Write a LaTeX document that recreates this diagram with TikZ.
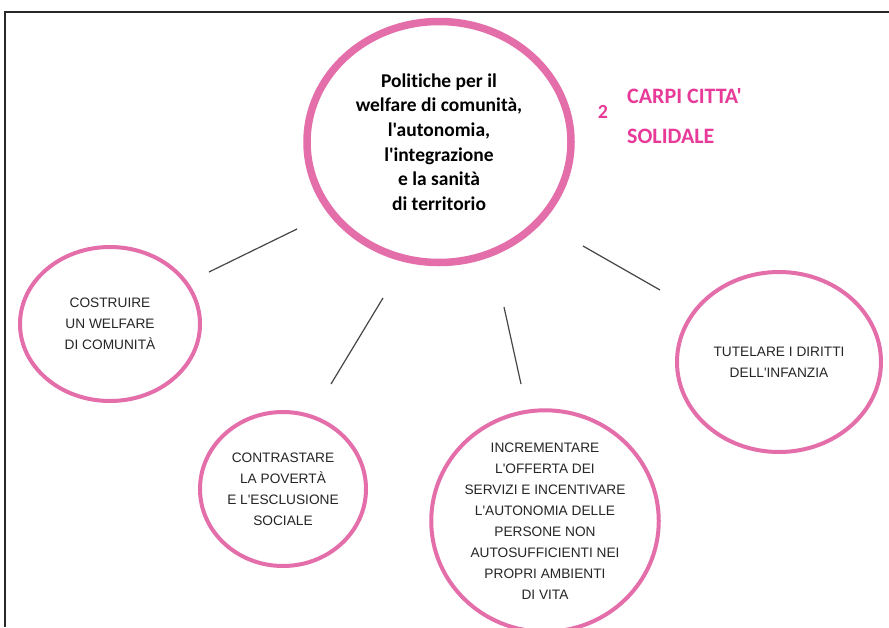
\documentclass[tikz,border=0pt]{standalone}
\usepackage{fontspec}
\setmainfont{Liberation Sans}[Ligatures=TeXOff]
\newfontfamily\calib{Carlito}[Ligatures={TeXOff,NoCommon}]
\usetikzlibrary{shapes.geometric}
\definecolor{ringpink}{RGB}{227,110,170}
\definecolor{titlepink}{RGB}{232,58,152}
\definecolor{framegray}{RGB}{40,40,40}
\definecolor{linegray}{RGB}{70,70,70}
\tikzset{
  ring/.style={ellipse, draw=ringpink, line width=4pt, inner sep=0pt, align=center,
    font=\fontsize{13.7pt}{21pt}\selectfont, text=black!85},
  mainring/.style={ring, line width=7.5pt, font=\calib\bfseries\fontsize{19.5pt}{24.6pt}\selectfont, text=black},
  link/.style={draw=linegray, line width=1.2pt},
  pinktext/.style={text=titlepink, font=\calib\bfseries\fontsize{22pt}{26pt}\selectfont, anchor=west, inner sep=0pt}
}
\begin{document}
\begin{tikzpicture}[x=1pt,y=-1pt]
\useasboundingbox (0,0) rectangle (889,627);
\fill[white] (0,0) rectangle (889,627);
\draw[framegray, line width=1.1pt] (5,627) -- (5,12) -- (889,12);

\node[mainring, minimum width=264pt, minimum height=241pt] (main) at (439,142)
  {Politiche per il\\welfare di comunità,\\l'autonomia,\\l'integrazione\\e la sanità\\di territorio};

\node[ring, minimum width=180pt, minimum height=154pt] (c1) at (110,324)
  {COSTRUIRE\\UN WELFARE\\DI COMUNITÀ};
\node[ring, minimum width=166pt, minimum height=154pt] (c2) at (283,489)
  {CONTRASTARE\\LA POVERTÀ\\E L'ESCLUSIONE\\SOCIALE};
\node[ring, minimum width=210pt, minimum height=199pt] (c3) at (545,521)
  {INCREMENTARE\\L'OFFERTA DEI\\SERVIZI E INCENTIVARE\\L'AUTONOMIA DELLE\\PERSONE NON\\AUTOSUFFICIENTI NEI\\PROPRI AMBIENTI\\DI VITA};
\node[ring, minimum width=204pt, minimum height=180pt] (c4) at (779,362)
  {TUTELARE I DIRITTI\\DELL'INFANZIA};

\node[text=titlepink, font=\calib\bfseries\fontsize{20pt}{22pt}\selectfont, inner sep=0pt] (num) at (603,112) {2};
\node[pinktext] (t1) at (627,96) {CARPI CITTA'};
\node[pinktext] (t2) at (627,136) {SOLIDALE};

\coordinate (a1) at (297,229); \coordinate (b1) at (209,272);
\coordinate (a2) at (383,298); \coordinate (b2) at (331,384);
\coordinate (a3) at (504,307); \coordinate (b3) at (521,384);
\coordinate (a4) at (583,246); \coordinate (b4) at (660,290);
\draw[link] (a1) -- (b1);
\draw[link] (a2) -- (b2);
\draw[link] (a3) -- (b3);
\draw[link] (a4) -- (b4);
\end{tikzpicture}
\end{document}
